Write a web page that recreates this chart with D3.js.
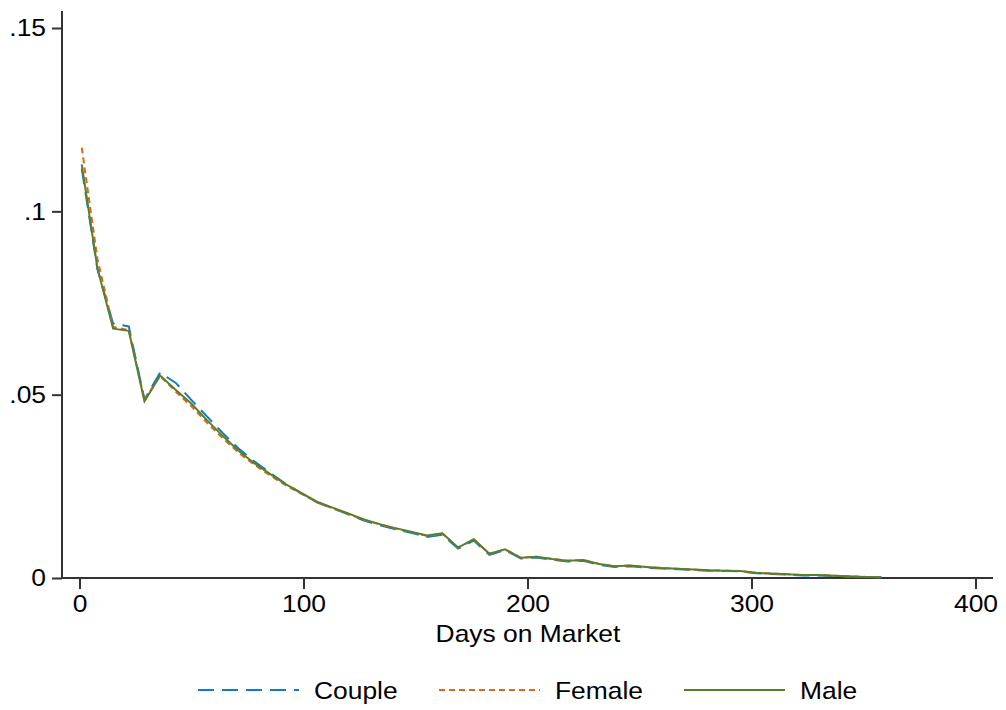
<!DOCTYPE html>
<html>
<head>
<meta charset="utf-8">
<script src="https://cdn.jsdelivr.net/npm/d3@7"></script>
<style>
  body { margin: 0; background: #fff; }
  svg text { font-family: "Liberation Sans", Arial, sans-serif; fill: #000; }
</style>
</head>
<body>
<svg width="1006" height="710"></svg>
<script>
const days = [1, 8, 15, 22, 29, 36, 43, 50, 57, 64, 71, 78, 85, 92, 99, 106, 113, 120, 127, 134,
  141, 148, 155, 162, 169, 176, 183, 190, 197, 204, 211, 218, 225, 232, 239, 246, 253, 260, 267, 274,
  281, 288, 295, 302, 309, 316, 323, 330, 337, 344, 351, 358];

const couple = [.1117, .0842, .0694, .0686, .0487, .0560, .0532, .0485, .0440, .0395, .0353, .0318, .0287, .0257, .0231, .0206, .0190, .0174, .0157, .0144,
  .0133, .0123, .0112, .0118, .0080, .0102, .0063, .0076, .0053, .0056, .0050, .0045, .0047, .0036, .0030, .0032, .0028, .0026, .0024, .0022,
  .0020, .0019, .0018, .0013, .0011, .0009, .0007, .0007, .0005, .0004, .0003, .0002];

const female = [.1174, .0870, .0685, .0676, .0486, .0551, .0508, .0468, .0423, .0381, .0342, .0309, .0280, .0253, .0230, .0207, .0190, .0174, .0159, .0146,
  .0135, .0125, .0115, .0121, .0083, .0105, .0066, .0078, .0055, .0058, .0052, .0047, .0049, .0038, .0032, .0034, .0030, .0027, .0025, .0023,
  .0021, .0020, .0019, .0014, .0012, .0010, .0008, .0008, .0006, .0004, .0003, .0002];

const male = [.1128, .0845, .0680, .0674, .0482, .0552, .0513, .0475, .0430, .0387, .0347, .0313, .0284, .0256, .0232, .0208, .0192, .0176, .0160, .0147,
  .0136, .0126, .0116, .0122, .0083, .0106, .0066, .0078, .0055, .0058, .0052, .0047, .0049, .0038, .0032, .0034, .0030, .0027, .0025, .0023,
  .0021, .0020, .0019, .0014, .0012, .0010, .0008, .0008, .0006, .0004, .0003, .0002];

const xTicks = [0, 100, 200, 300, 400];
const yTicks = [0, .05, .1, .15];
const yTickLabels = ['0', '.05', '.1', '.15'];

const seriesNames = ['Couple', 'Female', 'Male'];
const seriesColors = ['#1279c6', '#e0661f', '#5a7f2c'];
const seriesDash = ['16,8', '6,4', null];

(function() {
  const svg = d3.select('svg');

  const x = d3.scaleLinear().domain([0, 400]).range([79.5, 975.5]);
  const y = d3.scaleLinear().domain([0, .15]).range([578, 28]);

  // text in the original is a bit wider than arial, stretch it around its anchor
  const stretch = 1.1;
  function widen(sel) {
    sel.attr('transform', function() {
      const ax = +(d3.select(this).attr('x') || 0);
      return `translate(${ax},0) scale(${stretch},1) translate(${-ax},0)`;
    });
  }

  const axisX = svg.append('g')
    .attr('transform', 'translate(0, 578)')
    .call(d3.axisBottom(x).tickValues(xTicks).tickSize(11).tickSizeOuter(0).tickPadding(6));

  const axisY = svg.append('g')
    .attr('transform', 'translate(62, 0)')
    .call(d3.axisLeft(y).tickValues(yTicks).tickSize(10).tickSizeOuter(0).tickPadding(6)
      .tickFormat((d, i) => yTickLabels[i]));

  // axis lines run a bit past the ticks
  axisX.select('.domain').attr('d', 'M62,0H993');
  axisY.select('.domain').attr('d', 'M0,578V11');

  svg.selectAll('.domain, .tick line')
    .attr('stroke', '#333')
    .attr('stroke-width', 2);
  svg.selectAll('.tick text')
    .attr('font-size', 24)
    .attr('font-family', '"Liberation Sans", Arial, sans-serif')
    .attr('fill', '#000')
    .call(widen);

  svg.append('text')
    .attr('x', 528)
    .attr('y', 642)
    .attr('text-anchor', 'middle')
    .attr('font-size', 24)
    .text('Days on Market')
    .call(widen);

  const line = d3.line()
    .x(d => x(d[0]))
    .y(d => y(d[1]));

  const allSeries = [couple, female, male];

  allSeries.forEach((vals, i) => {
    svg.append('path')
      .datum(days.map((d, j) => [d, vals[j]]))
      .attr('d', line)
      .attr('fill', 'none')
      .attr('stroke', seriesColors[i])
      .attr('stroke-width', 2)
      .attr('stroke-dasharray', seriesDash[i]);
  });

  // legend
  const legendX = [198, 439, 684];
  const legend = svg.append('g');
  seriesNames.forEach((name, i) => {
    legend.append('line')
      .attr('x1', legendX[i])
      .attr('x2', legendX[i] + 101)
      .attr('y1', 690)
      .attr('y2', 690)
      .attr('stroke', seriesColors[i])
      .attr('stroke-width', 2)
      .attr('stroke-dasharray', seriesDash[i]);
    legend.append('text')
      .attr('x', legendX[i] + 116)
      .attr('y', 699)
      .attr('font-size', 24)
      .text(name)
      .call(widen);
  });
})();
</script>
</body>
</html>
